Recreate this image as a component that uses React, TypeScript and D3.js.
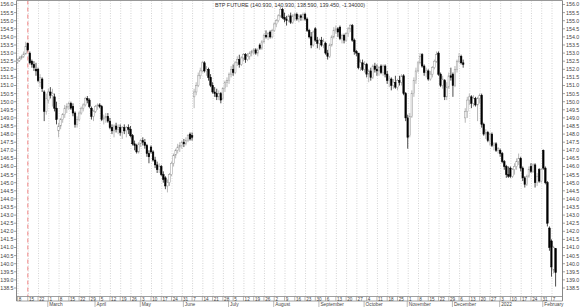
import React from "react";
import * as d3 from "d3";

type OHLC = [number, number, number, number];

const title = "BTP FUTURE (140.930, 140.930, 138.590, 139.450, -1.34000)";
const firstDay = [2021, 1, 8];
const markerDayIndex = 5;

const monthNames = ["2022", "February", "March", "April", "May", "June", "July", "August", "September", "October", "November", "December"];

const feb21: OHLC[] = [
  [152.45, 152.65, 152.35, 152.55], [152.55, 152.8, 152.45, 152.7], [152.7, 152.9, 152.6, 152.8], [152.8, 153.1, 152.7, 152.95], [152.95, 153.7, 152.9, 153.4],
  [153.6, 153.65, 153.1, 153.2], [153.0, 153.1, 152.3, 152.4], [152.5, 152.6, 152.1, 152.3], [152.3, 152.5, 151.9, 152.1], [152.0, 152.4, 151.6, 151.9],
  [152.0, 152.1, 151.2, 151.3], [151.2, 151.7, 150.9, 151.5], [151.4, 151.5, 150.6, 150.8], [150.6, 150.7, 148.8, 149.4], [149.4, 150.5, 149.2, 150.2],
];
const mar21: OHLC[] = [
  [150.1, 150.8, 149.9, 150.6], [150.6, 150.9, 150.2, 150.4], [150.4, 150.8, 149.7, 150.5], [150.3, 150.5, 149.4, 149.6], [149.6, 150.0, 148.6, 148.9],
  [148.2, 148.7, 147.8, 148.5], [148.5, 149.0, 148.3, 148.9], [148.9, 149.3, 148.7, 149.2], [149.2, 149.8, 149.0, 149.6], [149.6, 149.9, 149.3, 149.7],
  [149.7, 150.0, 149.5, 149.9], [149.9, 150.0, 149.5, 149.6], [149.7, 149.9, 149.1, 149.3], [149.3, 149.4, 148.4, 148.6], [148.6, 149.1, 148.4, 148.9],
  [148.9, 149.4, 148.8, 149.3], [149.3, 149.7, 149.2, 149.6], [149.6, 149.9, 149.4, 149.8], [149.8, 150.3, 149.7, 150.2], [150.2, 150.35, 149.9, 150.1],
  [150.1, 150.2, 149.6, 149.7], [149.6, 149.7, 148.9, 149.1], [149.1, 149.5, 148.8, 149.4],
];
const apr21: OHLC[] = [
  [149.4, 149.8, 149.3, 149.7], [149.7, 149.9, 149.5, 149.8],
  [149.8, 149.9, 149.6, 149.7], [149.7, 149.8, 148.8, 148.9], [148.9, 149.2, 148.6, 149.0], [149.0, 149.3, 148.7, 149.1], [149.1, 149.3, 148.7, 148.8],
  [148.8, 149.0, 148.3, 148.4], [148.4, 148.6, 148.0, 148.2], [148.2, 148.6, 147.8, 148.5], [148.5, 148.7, 148.1, 148.3], [148.3, 148.6, 148.0, 148.4],
  [148.4, 148.6, 147.9, 148.1], [148.1, 148.5, 147.7, 148.4], [148.4, 148.6, 148.0, 148.2], [148.2, 148.5, 147.8, 148.4], [148.4, 148.6, 148.0, 148.3],
  [148.3, 148.5, 147.8, 147.9], [147.9, 148.0, 147.3, 147.4], [147.4, 147.6, 147.0, 147.3], [147.3, 147.4, 146.8, 146.9], [146.9, 147.5, 146.8, 147.4],
];
const may21: OHLC[] = [
  [147.4, 147.7, 147.2, 147.6], [147.6, 147.8, 147.3, 147.5], [147.5, 147.7, 147.1, 147.3], [147.3, 147.4, 146.6, 146.8], [146.8, 147.0, 146.2, 146.6],
  [147.2, 147.3, 146.8, 146.9], [146.9, 147.0, 146.3, 146.4], [146.4, 146.6, 145.9, 146.1], [146.1, 146.3, 145.6, 145.8], [145.8, 146.2, 145.6, 146.0],
  [146.0, 146.1, 145.4, 145.5], [145.5, 145.7, 145.0, 145.2], [145.3, 145.4, 144.6, 144.8], [144.8, 145.2, 144.4, 145.0], [145.0, 145.6, 144.8, 145.5],
  [145.5, 146.3, 145.4, 146.2], [146.2, 146.8, 146.0, 146.7], [146.7, 147.1, 146.5, 147.0], [147.0, 147.4, 146.8, 147.2], [147.2, 147.5, 146.9, 147.3],
  [147.3, 147.6, 147.1, 147.5],
];
const jun21: OHLC[] = [
  [147.5, 147.7, 147.2, 147.4], [147.4, 147.8, 147.3, 147.6], [147.6, 148.0, 147.5, 147.9], [148.0, 148.1, 147.6, 147.7],
  [147.9, 148.1, 147.6, 147.8], [150.3, 150.8, 149.6, 150.6], [150.6, 151.2, 150.4, 151.0], [151.0, 151.8, 150.9, 151.6], [151.6, 152.1, 151.4, 151.9],
  [151.9, 152.5, 151.8, 152.4], [152.4, 152.5, 151.8, 151.9], [151.9, 152.2, 151.6, 152.0], [152.0, 152.1, 151.3, 151.5], [151.5, 151.7, 150.9, 151.0],
  [151.0, 151.2, 150.5, 150.6], [150.6, 150.9, 150.3, 150.5], [150.5, 150.8, 150.1, 150.3], [150.3, 150.7, 150.1, 150.5], [150.5, 150.6, 149.9, 150.1],
  [150.2, 150.9, 150.1, 150.8], [150.8, 151.3, 150.6, 151.2], [151.2, 151.5, 150.9, 151.3],
];
const jul21: OHLC[] = [
  [151.3, 151.8, 151.1, 151.7], [151.7, 152.2, 151.5, 152.0],
  [152.0, 152.3, 151.6, 151.8], [151.8, 152.5, 151.7, 152.4], [152.4, 152.8, 152.2, 152.6], [152.6, 152.9, 152.1, 152.3], [152.3, 152.8, 152.2, 152.7],
  [152.7, 153.0, 152.5, 152.9], [152.9, 153.0, 152.4, 152.6], [152.6, 153.0, 152.5, 152.8], [152.8, 153.1, 152.6, 153.0], [153.0, 153.2, 152.8, 153.1],
  [153.1, 153.3, 152.9, 153.2], [153.2, 153.3, 152.9, 153.0], [153.0, 153.3, 152.8, 153.2], [153.5, 153.6, 153.2, 153.3], [153.3, 153.8, 153.2, 153.7],
  [153.7, 154.2, 153.6, 154.1], [154.1, 154.4, 153.9, 154.0], [154.0, 154.3, 153.8, 154.2], [154.3, 154.4, 153.9, 154.0], [154.0, 154.5, 153.9, 154.4],
];
const aug21: OHLC[] = [
  [154.4, 154.9, 154.3, 154.8], [154.8, 155.1, 154.6, 155.0], [155.0, 155.4, 154.9, 155.3], [155.3, 155.9, 155.2, 155.7], [155.7, 155.8, 155.1, 155.2],
  [155.2, 155.5, 154.9, 155.1], [155.1, 155.3, 154.7, 155.0], [155.0, 155.4, 154.9, 155.3], [155.3, 155.5, 154.8, 154.9], [154.9, 155.4, 154.8, 155.3],
  [155.3, 155.5, 155.0, 155.4], [155.4, 155.5, 155.0, 155.1], [155.1, 155.4, 154.9, 155.3], [155.3, 155.4, 155.0, 155.2], [155.2, 155.5, 155.0, 155.4],
  [155.4, 155.5, 155.0, 155.1], [155.1, 155.2, 154.3, 154.4], [154.4, 154.5, 153.9, 154.0], [154.0, 154.3, 153.3, 153.5], [153.5, 154.4, 153.4, 154.3],
  [154.5, 154.6, 153.7, 153.8], [153.8, 154.0, 153.3, 153.6],
];
const sep21: OHLC[] = [
  [153.6, 153.9, 153.2, 153.8], [153.8, 154.0, 153.4, 153.5], [153.5, 153.9, 153.3, 153.7],
  [153.6, 153.7, 152.9, 153.0], [153.0, 153.2, 152.6, 152.8], [152.8, 153.6, 152.7, 153.5], [153.5, 154.1, 153.4, 154.0], [154.0, 154.6, 153.9, 154.4],
  [154.4, 154.7, 154.2, 154.5], [154.5, 154.6, 154.0, 154.3], [154.6, 154.7, 153.8, 153.9], [153.9, 154.2, 153.6, 154.1], [154.1, 154.2, 153.6, 153.8],
  [153.8, 154.3, 153.7, 154.2], [154.2, 154.6, 154.0, 154.5], [154.5, 154.8, 154.3, 154.7], [154.7, 154.8, 153.7, 153.8], [153.8, 153.9, 152.9, 153.1],
  [153.1, 153.2, 152.8, 153.0], [153.0, 153.0, 152.0, 152.1], [152.1, 152.6, 151.9, 152.4], [152.4, 152.6, 151.9, 152.0],
];
const oct21: OHLC[] = [
  [152.0, 152.5, 151.8, 152.3],
  [152.3, 152.4, 151.5, 151.7], [151.7, 152.0, 151.2, 151.9], [151.9, 152.1, 151.3, 151.5], [151.5, 152.3, 151.4, 152.2], [152.2, 152.4, 151.8, 152.0],
  [152.0, 152.3, 151.6, 151.9], [151.9, 152.2, 151.6, 152.1], [152.2, 152.3, 151.7, 151.8], [151.8, 152.3, 151.6, 152.2], [152.2, 152.3, 151.5, 151.7],
  [151.7, 151.9, 151.1, 151.3], [151.3, 151.6, 150.9, 151.4], [151.4, 151.5, 150.7, 151.0], [151.0, 151.4, 150.8, 151.2], [151.2, 151.6, 150.8, 150.9],
  [150.9, 151.4, 150.7, 151.3], [151.3, 151.6, 151.0, 151.2], [151.2, 151.7, 151.0, 151.6], [151.6, 151.7, 150.4, 150.5], [150.5, 150.6, 148.8, 149.0],
];
const nov21: OHLC[] = [
  [149.0, 149.2, 147.1, 147.8], [147.9, 149.3, 147.8, 149.1], [149.1, 150.7, 149.0, 150.5], [150.5, 151.5, 150.3, 151.3], [151.3, 152.1, 151.1, 151.9],
  [151.9, 152.5, 151.8, 152.4], [152.4, 153.0, 152.3, 152.8], [152.9, 153.0, 152.1, 152.2], [152.2, 152.3, 151.6, 151.8], [151.8, 152.1, 151.5, 151.9],
  [151.9, 152.0, 151.3, 151.4], [151.4, 151.9, 151.3, 151.7], [151.7, 152.2, 151.5, 152.1], [152.1, 152.6, 152.0, 152.5], [152.5, 153.1, 152.4, 152.9],
  [153.0, 153.1, 151.6, 151.7], [151.7, 151.8, 150.9, 151.0], [151.0, 151.6, 150.8, 151.4], [151.3, 151.4, 150.1, 150.3], [150.3, 151.2, 150.1, 150.9],
  [150.9, 151.8, 150.8, 151.6], [151.6, 152.1, 151.3, 151.5],
];
const dec21: OHLC[] = [
  [151.7, 151.8, 150.3, 151.0], [151.0, 152.2, 150.9, 152.0], [152.0, 152.6, 151.8, 152.5],
  [152.5, 153.0, 152.4, 152.8], [152.8, 152.9, 152.3, 152.4], [152.4, 152.6, 152.1, 152.3], [149.0, 149.6, 148.7, 149.4], [149.4, 150.3, 149.0, 150.1],
  [150.1, 150.5, 149.8, 150.3], [150.3, 150.4, 149.6, 149.9], [149.9, 150.4, 149.7, 150.2], [150.2, 150.3, 149.7, 149.8], [149.8, 150.3, 148.8, 150.2],
  [150.2, 150.5, 149.9, 150.4], [150.4, 150.5, 148.4, 148.6], [148.6, 148.7, 147.9, 148.0], [148.0, 148.3, 147.7, 148.1], [148.1, 148.2, 147.5, 147.6],
  [147.6, 148.1, 147.3, 148.0], [148.0, 148.1, 147.2, 147.3], [147.3, 147.5, 147.0, 147.4], [147.4, 147.5, 146.9, 147.0], [147.0, 147.2, 146.8, 147.1],
];
const jan22: OHLC[] = [
  [147.0, 147.1, 146.6, 146.8], [146.8, 146.9, 146.2, 146.3], [146.3, 146.4, 145.8, 146.0], [146.0, 146.1, 145.3, 145.5], [145.5, 146.0, 145.3, 145.4],
  [145.9, 146.0, 145.3, 145.4], [145.4, 145.9, 145.3, 145.8], [145.8, 146.2, 145.5, 146.0], [146.0, 146.5, 145.8, 146.3], [146.3, 146.8, 146.1, 146.5],
  [146.5, 146.6, 145.7, 145.9], [145.9, 146.0, 145.1, 145.3], [145.3, 145.4, 144.7, 144.9], [144.9, 145.5, 144.8, 145.4], [145.4, 146.0, 145.3, 145.8],
  [146.0, 146.2, 145.6, 145.7], [145.7, 146.2, 145.6, 146.1], [146.1, 146.2, 144.7, 145.0], [145.0, 145.6, 144.8, 145.4], [145.8, 145.9, 145.0, 145.1],
  [145.1, 145.9, 145.0, 145.8],
];
const feb22: OHLC[] = [
  [147.0, 147.05, 145.8, 145.9], [145.9, 146.0, 144.9, 145.0], [145.0, 145.1, 142.3, 142.5], [142.2, 142.3, 140.8, 141.0],
  [141.4, 141.5, 139.2, 139.8], [139.6, 141.1, 139.4, 141.0], [140.93, 140.93, 138.59, 139.45],
];

const candles: OHLC[] = [...feb21, ...mar21, ...apr21, ...may21, ...jun21, ...jul21, ...aug21, ...sep21, ...oct21, ...nov21, ...dec21, ...jan22, ...feb22];

const yTickValues = d3.range(0, 36).map((i) => 138.5 + i * 0.5);

export default function App() {
  const W = 580, H = 307;
  const plotL = 16.5, plotR = 562.5, plotT = 0.5, plotB = 296.5;

  const start = new Date(Date.UTC(firstDay[0], firstDay[1], firstDay[2]));
  const allDays = d3.utcDay.range(start, new Date(Date.UTC(2022, 2, 1))).filter((d) => d.getUTCDay() !== 0 && d.getUTCDay() !== 6);
  const dates = allDays.slice(0, candles.length);

  const x = d3.scaleLinear().domain([0, 260]).range([17.5, 551.5]);
  const y = d3.scaleLinear().domain([138.5, 156]).range([288, 4.5]);

  const mondays = dates.map((d, i) => ({ d, i })).filter((e) => e.d.getUTCDay() === 1);
  const monthStarts = dates
    .map((d, i) => ({ d, i }))
    .filter((e, k) => k > 0 && dates[k - 1].getUTCMonth() !== e.d.getUTCMonth());

  const font = "'Liberation Sans', Arial, sans-serif";
  const bw = 1.6;

  return (
    <svg width={W} height={H} style={{ position: "absolute", left: 0, top: 0, background: "#fff" }} fontFamily={font}>
      <rect x={0} y={0} width={W} height={H} fill="#fff" />
      {/* weekly gridlines */}
      {mondays.map((m) => (
        <line key={"g" + m.i} x1={x(m.i) + 0.5} x2={x(m.i) + 0.5} y1={plotT} y2={plotB} stroke="#c8c8c8" strokeWidth={0.8} strokeDasharray="1,1.5" />
      ))}
      {/* marker line */}
      <line x1={x(markerDayIndex)} x2={x(markerDayIndex)} y1={plotT} y2={plotB} stroke="#f3a0a0" strokeWidth={1.3} strokeDasharray="4,3" />
      {/* frame */}
      <line x1={plotL} x2={plotR} y1={plotT} y2={plotT} stroke="#999" strokeWidth={1} />
      <line x1={plotL} x2={plotL} y1={plotT} y2={plotB + 4.5} stroke="#888" strokeWidth={1} />
      <line x1={plotR} x2={plotR} y1={plotT} y2={plotB + 4.5} stroke="#888" strokeWidth={1} />
      {/* y axes */}
      {yTickValues.map((v) => (
        <g key={"y" + v}>
          <text x={13.5} y={y(v) + 1.9} fontSize={5.3} textAnchor="end" fill="#444">{v.toFixed(1)}</text>
          <line x1={14} x2={16.5} y1={y(v)} y2={y(v)} stroke="#666" strokeWidth={0.6} />
          <line x1={562.5} x2={565} y1={y(v)} y2={y(v)} stroke="#666" strokeWidth={0.6} />
          <text x={566} y={y(v) + 1.9} fontSize={5.3} textAnchor="start" fill="#444">{v.toFixed(1)}</text>
        </g>
      ))}
      {/* title */}
      <text x={290} y={7} fontSize={5.4} textAnchor="middle" fill="#333">{title}</text>
      {/* candles */}
      {candles.map(([o, h, l, c], i) => {
        const up = c >= o;
        const cx = x(i);
        const top = y(Math.max(o, c));
        const bot = y(Math.min(o, c));
        const col = up ? "#9a9a9a" : "#000";
        return (
          <g key={"c" + i}>
            <line x1={cx} x2={cx} y1={y(h)} y2={y(l)} stroke={col} strokeWidth={0.7} />
            <rect x={cx - bw / 2} y={top} width={bw} height={Math.max(bot - top, 0.6)} fill={up ? "#fff" : "#000"} stroke={up ? "#9a9a9a" : "#000"} strokeWidth={0.5} />
          </g>
        );
      })}
      {/* bottom axis boxes */}
      <line x1={plotL} x2={plotR} y1={plotB} y2={plotB} stroke="#888" strokeWidth={0.8} />
      <line x1={plotL} x2={plotR} y1={plotB + 4.5} y2={plotB + 4.5} stroke="#888" strokeWidth={0.8} />
      {mondays.map((m) => (
        <g key={"t" + m.i}>
          <line x1={x(m.i)} x2={x(m.i)} y1={plotB} y2={plotB + 4.5} stroke="#888" strokeWidth={0.6} />
          <text x={x(m.i) + 1.2} y={plotB + 4} fontSize={4.6} fill="#444">{m.d.getUTCDate()}</text>
        </g>
      ))}
      {monthStarts.map((m) => (
        <g key={"m" + m.i}>
          <line x1={x(m.i) - 0.5} x2={x(m.i) - 0.5} y1={plotB + 4.5} y2={H} stroke="#888" strokeWidth={0.6} />
          <text x={x(m.i) + 1} y={plotB + 9.5} fontSize={4.8} fill="#444">{monthNames[m.d.getUTCMonth()]}</text>
        </g>
      ))}
    </svg>
  );
}
